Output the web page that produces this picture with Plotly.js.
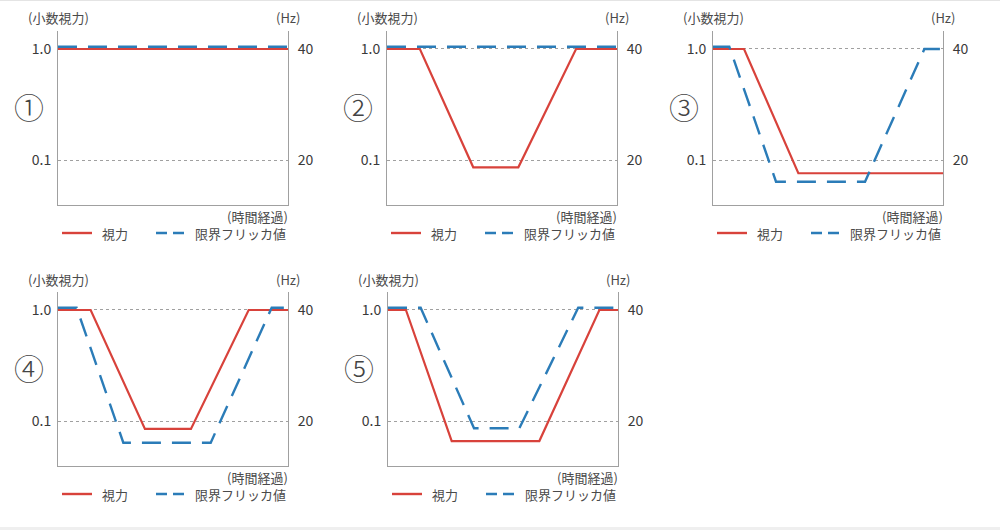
<!DOCTYPE html>
<html>
<head>
<meta charset="utf-8">
<script src="https://cdn.plot.ly/plotly-3.0.0.min.js"></script>
<style>
  body { margin: 0; background: #fff; }
  #chart { width: 1000px; height: 530px; }
</style>
</head>
<body>
<div id="chart"></div>
<script>
// panel labels and series names
var panelLabels = ["①", "②", "③", "④", "⑤"];
var seriesNames = ["視力", "限界フリッカ値"];
var leftTitle = "(小数視力)";
var rightTitle = "(Hz)";
var timeTitle = "(時間経過)";
var acuityTicks = [0.1, 1];
var acuityTickText = ["0.1", "1.0"];
var hzTicks = [20, 40];
var hzTickText = ["20", "40"];

// time runs 0..100 across each panel
var acuityX = [
    [0, 100],
    [0, 14.3, 37.5, 57.1, 82.2, 100],
    [0, 13.5, 37.1, 100],
    [0, 14.2, 37.8, 57.8, 82.9, 100],
    [0, 7.8, 27.7, 65.8, 91.9, 100]
];
var acuityY = [
    [1, 1],
    [1, 1, 0.086, 0.086, 1, 1],
    [1, 1, 0.076, 0.076],
    [1, 1, 0.085, 0.085, 1, 1],
    [1, 1, 0.066, 0.066, 1, 1]
];
var flickerX = [
    [0, 100],
    [0, 100],
    [0, 7.1, 27.4, 66.1, 91.9, 100],
    [0, 8.1, 28.4, 66.4, 92.9, 100],
    [0, 14.2, 37.4, 57.1, 82.7, 100]
];
var flickerY = [
    [40.4, 40.4],
    [40.4, 40.4],
    [40.4, 40.4, 16.1, 16.1, 40, 40],
    [40.4, 40.4, 16.1, 16.1, 40.4, 40.4],
    [40.4, 40.4, 18.7, 18.7, 40.4, 40.4]
];

// layout (pixels)
var W = 1000, H = 530;
var plotW = 230;
var panelLeft = [58, 387, 713, 58, 388];
var panelTop = [31, 31, 31, 292, 292];
var plotH = 174;

var red = "#d8423b";
var blue = "#2b7cb8";
var grey = "#a0a0a0";
var textCol = "#4a4a4a";
var fontFam = "'Noto Sans CJK JP', 'Noto Sans', sans-serif";

function px(x){ return x / W; }
function py(y){ return 1 - y / H; }

var data = [];
var layout = {
    width: W, height: H,
    margin: {l: 0, r: 0, t: 0, b: 0},
    paper_bgcolor: "#fff",
    plot_bgcolor: "#fff",
    showlegend: false,
    font: {family: fontFam, size: 13, color: textCol},
    annotations: [],
    shapes: [
        {type: "line", xref: "paper", yref: "paper", x0: 0, x1: 1, y0: py(0.5), y1: py(0.5),
         line: {color: "#e4e4e4", width: 1}},
        {type: "rect", xref: "paper", yref: "paper", x0: 0, x1: 1, y0: 0, y1: py(527),
         fillcolor: "#efefef", line: {width: 0}}
    ]
};

for (var i = 0; i < 5; i++) {
    var n = i + 1;
    var xs = n == 1 ? "" : String(n);
    var yl = String(2 * i + 1), yr = String(2 * i + 2);
    var ylName = yl == "1" ? "" : yl;
    var L = panelLeft[i], T = panelTop[i];
    var R = L + plotW, B = T + plotH;

    data.push({
        x: acuityX[i], y: acuityY[i], type: "scatter", mode: "lines",
        name: seriesNames[0], xaxis: "x" + xs, yaxis: "y" + ylName,
        line: {color: red, width: 2.2}
    });
    data.push({
        x: flickerX[i], y: flickerY[i], type: "scatter", mode: "lines",
        name: seriesNames[1], xaxis: "x" + xs, yaxis: "y" + yr,
        line: {color: blue, width: 2.4, dash: "19px,11px"}
    });

    layout["xaxis" + xs] = {
        domain: [px(L), px(R)], range: [0, 100], anchor: "y" + ylName,
        showline: true, linecolor: grey, linewidth: 1,
        showgrid: false, zeroline: false, showticklabels: false, ticks: "",
        fixedrange: true
    };
    layout["yaxis" + ylName] = {
        domain: [py(B), py(T)], type: "log", range: [-1.405, 0.162],
        anchor: "x" + xs,
        tickvals: acuityTicks, ticktext: acuityTickText,
        ticks: "", ticklabelstandoff: 3,
        tickfont: {size: 14, color: "#3a3a3a"},
        showline: true, linecolor: grey, linewidth: 1,
        showgrid: true, gridcolor: grey, gridwidth: 1, griddash: "dot",
        zeroline: false, fixedrange: true
    };
    layout["yaxis" + yr] = {
        overlaying: "y" + ylName, side: "right", anchor: "x" + xs,
        range: [11.9, 43.24],
        tickvals: hzTicks, ticktext: hzTickText,
        ticks: "", ticklabelstandoff: 6,
        tickfont: {size: 14, color: "#3a3a3a"},
        showline: true, linecolor: grey, linewidth: 1,
        showgrid: false, zeroline: false, fixedrange: true
    };

    var ann = layout.annotations;
    ann.push({text: leftTitle, xref: "paper", yref: "paper", x: px(L), y: py(T - 13),
              xanchor: "center", yanchor: "middle", showarrow: false});
    ann.push({text: rightTitle, xref: "paper", yref: "paper", x: px(R), y: py(T - 13),
              xanchor: "center", yanchor: "middle", showarrow: false});
    ann.push({text: timeTitle, xref: "paper", yref: "paper", x: px(R + 2), y: py(B + 11),
              xanchor: "right", yanchor: "middle", showarrow: false});
    ann.push({text: panelLabels[i], xref: "paper", yref: "paper", x: px(L - 29), y: py(T + 75),
              xanchor: "center", yanchor: "middle", showarrow: false,
              font: {size: 30, color: "#444", weight: 300}});

    // per-panel legend keys
    var ly = B + 28;
    layout.shapes.push({type: "line", xref: "paper", yref: "paper",
        x0: px(L + 4), x1: px(L + 34), y0: py(ly), y1: py(ly),
        line: {color: red, width: 2.4}});
    layout.shapes.push({type: "line", xref: "paper", yref: "paper",
        x0: px(L + 98), x1: px(L + 126), y0: py(ly), y1: py(ly),
        line: {color: blue, width: 2.4, dash: "11px,6px"}});
    ann.push({text: seriesNames[0], xref: "paper", yref: "paper", x: px(L + 42), y: py(ly),
              xanchor: "left", yanchor: "middle", showarrow: false});
    ann.push({text: seriesNames[1], xref: "paper", yref: "paper", x: px(L + 135), y: py(ly),
              xanchor: "left", yanchor: "middle", showarrow: false});
}

Plotly.newPlot("chart", data, layout, {displayModeBar: false, staticPlot: true});
</script>
</body>
</html>
